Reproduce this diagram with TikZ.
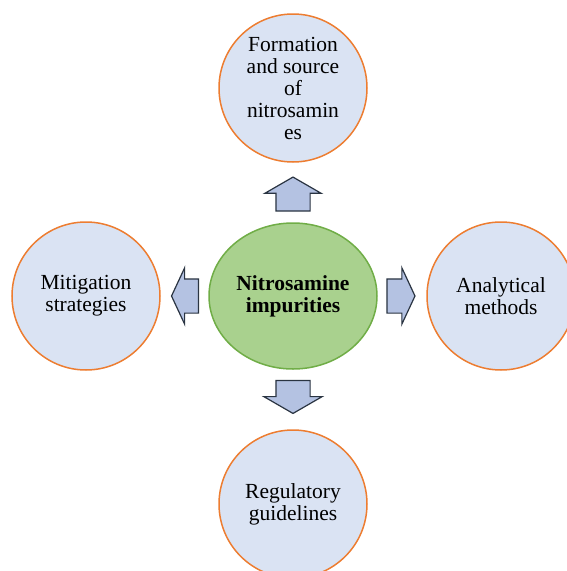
\documentclass[tikz,border=0pt]{standalone}
\usepackage{fontspec}
\setmainfont{Liberation Serif}
\usetikzlibrary{shapes.geometric,shapes.arrows,positioning}
\definecolor{topicfill}{HTML}{DAE3F3}
\definecolor{topicline}{HTML}{ED7D31}
\definecolor{corefill}{HTML}{A9D18E}
\definecolor{coreline}{HTML}{70AD47}
\definecolor{arrowfill}{HTML}{B4C2E2}
\definecolor{arrowline}{HTML}{2A3442}
\tikzstyle{topic} = [circle, draw=topicline, fill=topicfill, line width=1.5pt, minimum size=148pt, inner sep=0pt, align=center, font=\fontsize{21.5}{22}\selectfont]
\tikzstyle{core} = [ellipse, draw=coreline, fill=corefill, line width=1.5pt, minimum width=168pt, minimum height=146pt, inner sep=0pt, align=center, font=\fontsize{21.5}{22}\selectfont\bfseries]
\tikzstyle{blockarrow} = [single arrow, draw=arrowline, fill=arrowfill, line width=1.2pt, inner xsep=0pt, inner ysep=16.5pt, single arrow head extend=11pt, single arrow tip angle=120]
\tikzstyle{vertarrow} = [blockarrow, inner xsep=16.5pt, inner ysep=0pt]

\begin{document}
\begin{tikzpicture}[on grid, node distance=208pt]
    \useasboundingbox (0,0) rectangle (566pt,-571pt);
    \node [core] (imp) at (293pt,-296pt) {Nitrosamine\\impurities};

    \node [topic, above=of imp] (form) {Formation\\and source\\of\\nitrosamin\\es};
    \node [topic, left=207pt of imp] (mitig) {Mitigation\\strategies};
    \node [topic, right=of imp] (anal) {Analytical\\methods};
    \node [topic, below=of imp] (regul) {Regulatory\\guidelines};

    % block arrows from the centre outwards
    \node [vertarrow, shape border rotate=90, minimum height=34pt, above=97pt of imp] (toform) {};
    \node [blockarrow, shape border rotate=180, minimum height=27pt, single arrow tip angle=130, left=104pt of imp] (tomitig) {};
    \node [blockarrow, minimum height=28pt, single arrow tip angle=130, right=104pt of imp] (toanal) {};
    \node [vertarrow, shape border rotate=270, minimum height=33pt, single arrow head extend=12pt, below=96pt of imp] (toregul) {};
\end{tikzpicture}
\end{document}
